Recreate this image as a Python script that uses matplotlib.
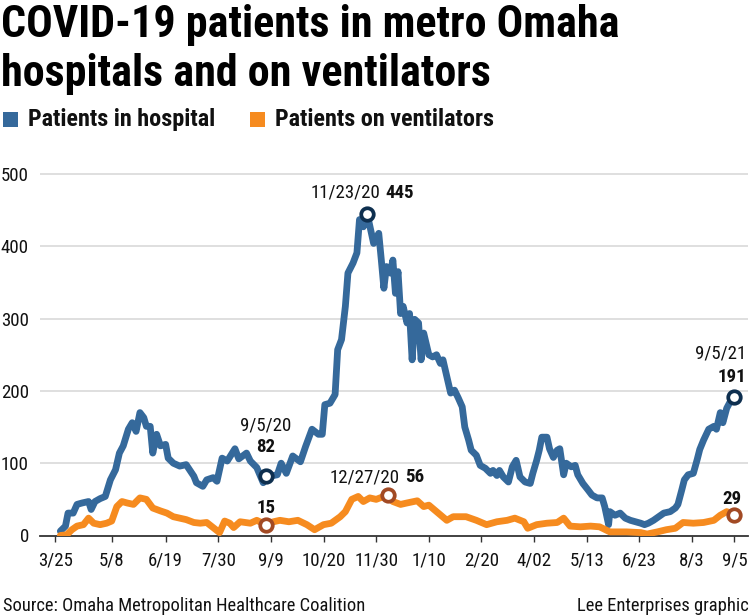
import matplotlib
matplotlib.use("Agg")
import matplotlib.pyplot as plt
from matplotlib.patches import Rectangle
from matplotlib import font_manager as fm
import pandas as pd

# ---------------- data ----------------
hosp_dates = [
    "2020-03-29", "2020-04-02", "2020-04-04", "2020-04-08", "2020-04-11", "2020-04-15",
    "2020-04-20", "2020-04-22", "2020-04-25", "2020-04-29", "2020-05-03", "2020-05-07",
    "2020-05-11", "2020-05-14", "2020-05-17", "2020-05-21", "2020-05-24", "2020-05-27",
    "2020-05-30", "2020-06-02", "2020-06-04", "2020-06-07", "2020-06-09", "2020-06-12",
    "2020-06-15", "2020-06-19", "2020-06-21", "2020-06-25", "2020-06-30", "2020-07-05",
    "2020-07-11", "2020-07-13", "2020-07-18", "2020-07-21", "2020-07-26", "2020-07-29",
    "2020-08-02", "2020-08-06", "2020-08-12", "2020-08-15", "2020-08-21", "2020-08-24",
    "2020-08-29", "2020-09-03", "2020-09-05", "2020-09-08", "2020-09-14", "2020-09-17",
    "2020-09-21", "2020-09-26", "2020-10-02", "2020-10-06", "2020-10-11", "2020-10-16",
    "2020-10-19", "2020-10-21", "2020-10-25", "2020-10-29", "2020-10-31", "2020-11-03",
    "2020-11-06", "2020-11-08", "2020-11-12", "2020-11-15", "2020-11-17", "2020-11-20",
    "2020-11-23", "2020-11-28", "2020-12-02", "2020-12-04", "2020-12-06", "2020-12-08",
    "2020-12-11", "2020-12-13", "2020-12-15", "2020-12-17", "2020-12-19", "2020-12-21",
    "2020-12-24", "2020-12-26", "2020-12-28", "2020-12-30", "2021-01-02", "2021-01-04",
    "2021-01-06", "2021-01-10", "2021-01-13", "2021-01-16", "2021-01-19", "2021-01-21",
    "2021-01-24", "2021-01-27", "2021-01-30", "2021-02-02", "2021-02-05", "2021-02-07",
    "2021-02-10", "2021-02-12", "2021-02-16", "2021-02-19", "2021-02-23", "2021-02-27",
    "2021-03-01", "2021-03-04", "2021-03-06", "2021-03-09", "2021-03-13", "2021-03-16",
    "2021-03-19", "2021-03-22", "2021-03-26", "2021-03-30", "2021-04-01", "2021-04-04",
    "2021-04-06", "2021-04-08", "2021-04-12", "2021-04-14", "2021-04-17", "2021-04-20",
    "2021-04-22", "2021-04-25", "2021-04-27", "2021-05-01", "2021-05-04", "2021-05-06",
    "2021-05-10", "2021-05-14", "2021-05-17", "2021-05-21", "2021-05-25", "2021-05-27",
    "2021-05-30", "2021-05-31", "2021-06-04", "2021-06-08", "2021-06-12", "2021-06-16",
    "2021-06-20", "2021-06-24", "2021-06-27", "2021-06-30", "2021-07-04", "2021-07-08",
    "2021-07-12", "2021-07-17", "2021-07-21", "2021-07-23", "2021-07-26", "2021-07-28",
    "2021-07-31", "2021-08-04", "2021-08-07", "2021-08-09", "2021-08-12", "2021-08-16",
    "2021-08-20", "2021-08-22", "2021-08-25", "2021-08-27", "2021-08-30", "2021-09-02",
    "2021-09-05",
]
hosp_values = [
    6, 13, 31, 31, 43, 45,
    47, 36, 47, 51, 54, 77,
    91, 114, 124, 147, 156, 144,
    170, 163, 151, 151, 114, 140,
    124, 126, 107, 100, 96, 98,
    82, 73, 68, 77, 80, 75,
    107, 103, 120, 106, 114, 103,
    94, 73, 82, 82, 84, 100,
    86, 110, 102, 123, 147, 140,
    140, 181, 183, 195, 257, 271,
    317, 363, 377, 391, 437, 427,
    445, 404, 418, 381, 342, 372,
    363, 381, 335, 365, 307, 317,
    294, 307, 243, 299, 294, 243,
    280, 250, 247, 250, 238, 243,
    220, 197, 201, 190, 178, 150,
    132, 118, 111, 97, 93, 86,
    90, 83, 90, 81, 74, 95,
    104, 81, 74, 72, 86, 104,
    118, 136, 136, 120, 108, 118,
    120, 84, 100, 95, 97, 84,
    72, 63, 56, 52, 52, 40,
    15, 33, 28, 31, 24, 21,
    19, 17, 15, 17, 21, 26,
    31, 33, 38, 43, 63, 77,
    84, 86, 105, 119, 132, 147,
    151, 147, 170, 156, 176, 186,
    191,
]

vent_dates = [
    "2020-03-29", "2020-04-03", "2020-04-07", "2020-04-11", "2020-04-16", "2020-04-20",
    "2020-04-24", "2020-04-29", "2020-05-04", "2020-05-08", "2020-05-12", "2020-05-16",
    "2020-05-20", "2020-05-25", "2020-05-30", "2020-06-04", "2020-06-09", "2020-06-15",
    "2020-06-20", "2020-06-25", "2020-06-30", "2020-07-05", "2020-07-11", "2020-07-16",
    "2020-07-21", "2020-07-26", "2020-07-31", "2020-08-04", "2020-08-08", "2020-08-11",
    "2020-08-16", "2020-08-24", "2020-08-29", "2020-09-05", "2020-09-11", "2020-09-16",
    "2020-09-23", "2020-09-30", "2020-10-07", "2020-10-13", "2020-10-20", "2020-10-26",
    "2020-11-02", "2020-11-06", "2020-11-11", "2020-11-16", "2020-11-20", "2020-11-25",
    "2020-11-30", "2020-12-06", "2020-12-09", "2020-12-13", "2020-12-19", "2020-12-24",
    "2021-01-01", "2021-01-06", "2021-01-10", "2021-01-16", "2021-01-24", "2021-01-29",
    "2021-02-08", "2021-02-16", "2021-02-24", "2021-03-04", "2021-03-12", "2021-03-18",
    "2021-03-25", "2021-03-28", "2021-04-04", "2021-04-12", "2021-04-20", "2021-04-25",
    "2021-04-30", "2021-05-08", "2021-05-16", "2021-05-23", "2021-05-31", "2021-06-13",
    "2021-06-24", "2021-06-29", "2021-07-07", "2021-07-14", "2021-07-21", "2021-07-27",
    "2021-08-04", "2021-08-12", "2021-08-20", "2021-08-25", "2021-08-30", "2021-09-05",
]
vent_values = [
    0, 1, 8, 13, 15, 24,
    17, 15, 17, 20, 40, 47,
    45, 43, 52, 50, 38, 34,
    31, 26, 24, 22, 18, 17,
    18, 11, 4, 20, 17, 11,
    19, 17, 21, 15, 19, 21,
    19, 21, 15, 8, 15, 17,
    26, 33, 50, 54, 47, 52,
    50, 54, 56, 47, 43, 45,
    48, 40, 42, 33, 21, 26,
    26, 21, 15, 19, 21, 24,
    19, 10, 15, 17, 18, 24,
    13, 12, 13, 12, 5, 5,
    4, 2, 5, 8, 10, 18,
    17, 18, 21, 28, 33, 29,
]

# highlighted points
hosp_marks_dates = ["2020-09-05", "2020-11-23", "2021-09-05"]
hosp_marks_values = [82, 445, 191]
hosp_marks_labels = ["9/5/20", "11/23/20", "9/5/21"]
vent_marks_dates = ["2020-09-05", "2020-12-09", "2021-09-05"]
vent_marks_values = [15, 56, 29]
vent_marks_labels = ["", "12/27/20", ""]

tick_dates = ["2020-03-25", "2020-05-08", "2020-06-19", "2020-07-30", "2020-09-09",
              "2020-10-20", "2020-11-30", "2021-01-10", "2021-02-20", "2021-04-02",
              "2021-05-13", "2021-06-23", "2021-08-03", "2021-09-05"]
tick_labels = ["3/25", "5/8", "6/19", "7/30", "9/9", "10/20", "11/30", "1/10",
               "2/20", "4/02", "5/13", "6/23", "8/3", "9/5"]
y_ticks = [0, 100, 200, 300, 400, 500]

title_lines = ["COVID-19 patients in metro Omaha", "hospitals and on ventilators"]
series_names = ["Patients in hospital", "Patients on ventilators"]
source_text = "Source: Omaha Metropolitan Healthcare Coalition"
credit_text = "Lee Enterprises graphic"

# ---------------- fonts: prefer an installed condensed face ----------------
PREF = ["Roboto Condensed", "Liberation Sans Narrow", "Noto Sans", "DejaVu Sans",
        "Open Sans", "Lato", "Inter"]


def _num_weight(e):
    w = e.weight
    if isinstance(w, str):
        w = fm.weight_dict.get(w, 400)
    return int(w)


def _num_stretch(e):
    s = e.stretch
    if isinstance(s, str):
        s = fm.stretch_dict.get(s, 500)
    return int(s)


def _is_condensed(e):
    n = (e.name + " " + e.fname).lower()
    return _num_stretch(e) < 500 or "condensed" in n or "narrow" in n


def pick_font(target_weight):
    cands = [e for e in fm.fontManager.ttflist
             if _is_condensed(e) and e.style == "normal"
             and "mono" not in (e.name + e.fname).lower()
             and "semicondensed" not in e.fname.lower().replace("-", "").replace("_", "")]
    if not cands:
        cands = [e for e in fm.fontManager.ttflist if _is_condensed(e) and e.style == "normal"]
    if cands:
        def score(e):
            rank = next((i for i, p in enumerate(PREF) if e.name.startswith(p)), len(PREF))
            return (rank, abs(_num_weight(e) - target_weight))
        best = min(cands, key=score)
        return fm.FontProperties(fname=best.fname)
    fam = ["Roboto", "Liberation Sans", "DejaVu Sans"]
    return fm.FontProperties(family=fam,
                             weight="black" if target_weight > 800 else
                             ("bold" if target_weight >= 700 else "normal"))


F_TITLE = pick_font(900)
F_BOLD = pick_font(700)
F_REG = pick_font(400)

# ---------------- style ----------------
BLUE = "#35699b"
ORANGE = "#f68b1f"
BLUE_DARK = "#0e2f4f"
ORANGE_DARK = "#a24a24"
TXT = "#111111"

W, H = 751, 616
fig = plt.figure(figsize=(W / 100, H / 100), dpi=100)
fig.patch.set_facecolor("white")
renderer = fig.canvas.get_renderer()


def fx(px):
    return px / W


def fy(py):
    return 1 - py / H


def fp(base, size):
    p = base.copy()
    p.set_size(size)
    return p


def fit_size(s, base, target_px):
    t = fig.text(0, 0, s, fontproperties=fp(base, 20))
    w = t.get_window_extent(renderer).width
    t.remove()
    return 20 * target_px / w


S_TITLE = fit_size(title_lines[0], F_TITLE, 618)
S_LEG = fit_size(series_names[0], F_BOLD, 187)
S_REG = fit_size("11/23/20", F_REG, 70)
S_SRC = fit_size(source_text, F_REG, 360)

ax_left, ax_right, ax_bottom, ax_top = 40, 748, 535.5, 166.8
ax = fig.add_axes([fx(ax_left), fy(ax_bottom), (ax_right - ax_left) / W, (ax_bottom - ax_top) / H])

hd = pd.to_datetime(hosp_dates)
vd = pd.to_datetime(vent_dates)

ax.plot(hd, hosp_values, color=BLUE, lw=4.9, solid_joinstyle="round", solid_capstyle="round", zorder=3)
ax.plot(vd, vent_values, color=ORANGE, lw=4.9, solid_joinstyle="round", solid_capstyle="round", zorder=4)

ax.plot(pd.to_datetime(hosp_marks_dates), hosp_marks_values, ls="none", marker="o", ms=9,
        mfc="white", mec=BLUE_DARK, mew=2.7, zorder=6, clip_on=False)
ax.plot(pd.to_datetime(vent_marks_dates), vent_marks_values, ls="none", marker="o", ms=9,
        mfc="white", mec=ORANGE_DARK, mew=2.7, zorder=6, clip_on=False)

ax.set_ylim(0, 510)
ax.set_xlim(pd.Timestamp("2020-03-13 04:00"), pd.Timestamp("2021-09-15 14:00"))

ax.set_yticks(y_ticks)
ax.set_yticklabels([str(v) for v in y_ticks], fontproperties=fp(F_REG, S_REG), color=TXT)
ax.set_xticks(pd.to_datetime(tick_dates))
ax.set_xticklabels(tick_labels, fontproperties=fp(F_REG, S_REG), color=TXT)
ax.tick_params(axis="y", length=0, pad=8.0)
ax.tick_params(axis="x", length=4.3, width=1, color="#333333", pad=7.5)

for s in ["top", "right", "left"]:
    ax.spines[s].set_visible(False)
ax.spines["bottom"].set_color("#333333")
ax.spines["bottom"].set_linewidth(1.3)
ax.spines["bottom"].set_zorder(2)
for v in y_ticks[1:]:
    ax.axhline(v, color="#d9d9d9", lw=1.2, zorder=1)

PT = 72 / 100  # pixels -> points


def ann(date, val, txt, dx, dy, ha, bold):
    ax.annotate(txt, xy=(pd.Timestamp(date), val), xytext=(dx * PT, dy * PT),
                textcoords="offset points", ha=ha, va="baseline",
                fontproperties=fp(F_BOLD if bold else F_REG, S_REG), color=TXT,
                zorder=7, annotation_clip=False)


ann(hosp_marks_dates[0], hosp_marks_values[0], hosp_marks_labels[0], 0, 46, "center", False)
ann(hosp_marks_dates[0], hosp_marks_values[0], str(hosp_marks_values[0]), 0, 24, "center", True)
ann(vent_marks_dates[0], vent_marks_values[0], str(vent_marks_values[0]), 0, 12, "center", True)
ann(hosp_marks_dates[1], hosp_marks_values[1], hosp_marks_labels[1], 13, 16, "right", False)
ann(hosp_marks_dates[1], hosp_marks_values[1], str(hosp_marks_values[1]), 18, 16, "left", True)
ann(vent_marks_dates[1], vent_marks_values[1], vent_marks_labels[1], 12, 13, "right", False)
ann(vent_marks_dates[1], vent_marks_values[1], str(vent_marks_values[1]), 17, 13, "left", True)
ann(hosp_marks_dates[2], hosp_marks_values[2], hosp_marks_labels[2], 12, 39, "right", False)
ann(hosp_marks_dates[2], hosp_marks_values[2], str(hosp_marks_values[2]), 12, 15, "right", True)
ann(vent_marks_dates[2], vent_marks_values[2], str(vent_marks_values[2]), 7, 11, "right", True)

# ---------------- titles / legend / footer ----------------
fig.text(fx(1), fy(37), title_lines[0], fontproperties=fp(F_TITLE, S_TITLE),
         color="black", ha="left", va="baseline")
fig.text(fx(1), fy(86), title_lines[1], fontproperties=fp(F_TITLE, S_TITLE),
         color="black", ha="left", va="baseline")

fig.patches.append(Rectangle((fx(3), fy(127)), 15 / W, 15 / H, transform=fig.transFigure,
                             facecolor=BLUE, edgecolor="none"))
fig.text(fx(28), fy(126), series_names[0], fontproperties=fp(F_BOLD, S_LEG),
         color=TXT, ha="left", va="baseline")
fig.patches.append(Rectangle((fx(250), fy(127)), 15 / W, 15 / H, transform=fig.transFigure,
                             facecolor=ORANGE, edgecolor="none"))
fig.text(fx(275), fy(126), series_names[1], fontproperties=fp(F_BOLD, S_LEG),
         color=TXT, ha="left", va="baseline")

fig.text(fx(3), fy(611), source_text, fontproperties=fp(F_REG, S_SRC), color=TXT,
         ha="left", va="baseline")
fig.text(fx(749), fy(611), credit_text, fontproperties=fp(F_REG, S_SRC), color=TXT,
         ha="right", va="baseline")

fig.savefig("out.png", dpi=100)
